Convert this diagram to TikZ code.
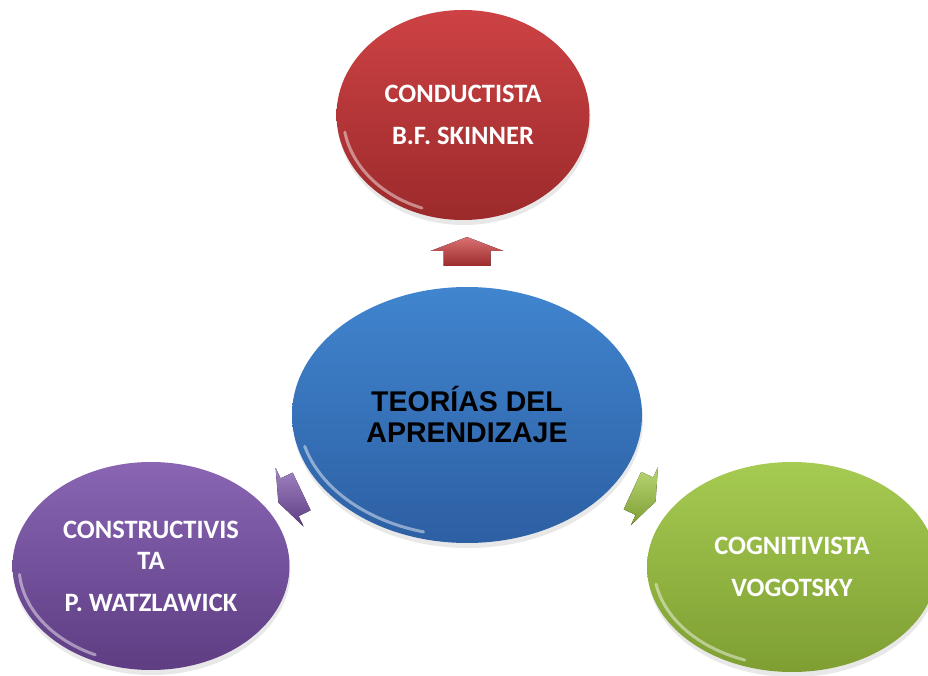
\documentclass[tikz,border=0pt]{standalone}
\usepackage{fontspec}
\setmainfont{Carlito}
\newfontfamily\arialfont{Liberation Sans}
\usetikzlibrary{shapes.geometric, shadows}

\definecolor{redtop}{HTML}{CD4244}
\definecolor{redbot}{HTML}{9C2A2B}
\definecolor{bluetop}{HTML}{4085CF}
\definecolor{bluebot}{HTML}{2D5FA3}
\definecolor{greentop}{HTML}{A6CB52}
\definecolor{greenbot}{HTML}{7E9E32}
\definecolor{purpletop}{HTML}{8965B3}
\definecolor{purplebot}{HTML}{5E3D83}

% block arrow: #1 position, #2 rotation, #3 scale, #4 fill style
\newcommand{\theoryarrow}[4]{%
  \begin{scope}[shift={#1}, rotate=#2, scale=#3]
    \fill[#4] (0,14.5) -- (36.5,0.5) -- (23.5,0.5) -- (23.5,-14.5)
      -- (-23.5,-14.5) -- (-23.5,0.5) -- (-36.5,0.5) -- cycle;
  \end{scope}}

% white rim highlight: #1 node, #2 x radius, #3 y radius, #4 start, #5 end
\newcommand{\rimgloss}[5]{%
  \draw[gloss] ([shift={(#4:#2 and #3)}]#1.center)
    arc[start angle=#4, end angle=#5, x radius=#2, y radius=#3];}

\begin{document}
\begin{tikzpicture}[x=1pt, y=1pt,
    bubble/.style={ellipse, inner sep=0pt, align=center,
      drop shadow={shadow xshift=1pt, shadow yshift=-5pt, opacity=0.18}},
    whitetext/.style={text=white, font=\bfseries\fontsize{26.5}{42}\selectfont},
    gloss/.style={white, opacity=0.45, line width=3pt, line cap=round}]
    \fill[white] (0,0) rectangle (928,675);
    \useasboundingbox (0,0) rectangle (928,675);

    % Centre
    \node[bubble, minimum width=350pt, minimum height=256pt,
      top color=bluetop, bottom color=bluebot,
      font=\arialfont\bfseries\fontsize{28.5}{31}\selectfont]
      (teorias) at (467,260) {TEORÍAS DEL\\APRENDIZAJE};

    % Outer theories
    \node[bubble, whitetext, minimum width=253pt, minimum height=210pt,
      top color=redtop, bottom color=redbot]
      (conductista) at (463,560) {CONDUCTISTA\\B.F. SKINNER};
    \node[bubble, whitetext, minimum width=277pt, minimum height=208pt,
      top color=purpletop, bottom color=purplebot]
      (constructivista) at (151,109) {CONSTRUCTIVIS\\[-11pt]TA\\P. WATZLAWICK};
    \node[bubble, whitetext, minimum width=290pt, minimum height=210pt,
      top color=greentop, bottom color=greenbot]
      (cognitivista) at (792,108) {COGNITIVISTA\\VOGOTSKY};

    % Highlights
    \rimgloss{teorias}{168}{121}{195}{255}
    \rimgloss{conductista}{120}{99}{190}{250}
    \rimgloss{constructivista}{132}{98}{185}{245}
    \rimgloss{cognitivista}{138}{99}{190}{250}

    % Arrows
    \theoryarrow{(467,423.5)}{0}{1}{top color=redtop!75!white, bottom color=redbot}
    \theoryarrow{(644,179)}{-115}{0.88}{top color=greentop!80!white, bottom color=greenbot}
    \theoryarrow{(290,178)}{115.5}{0.89}{top color=purpletop!80!white, bottom color=purplebot}
\end{tikzpicture}
\end{document}
